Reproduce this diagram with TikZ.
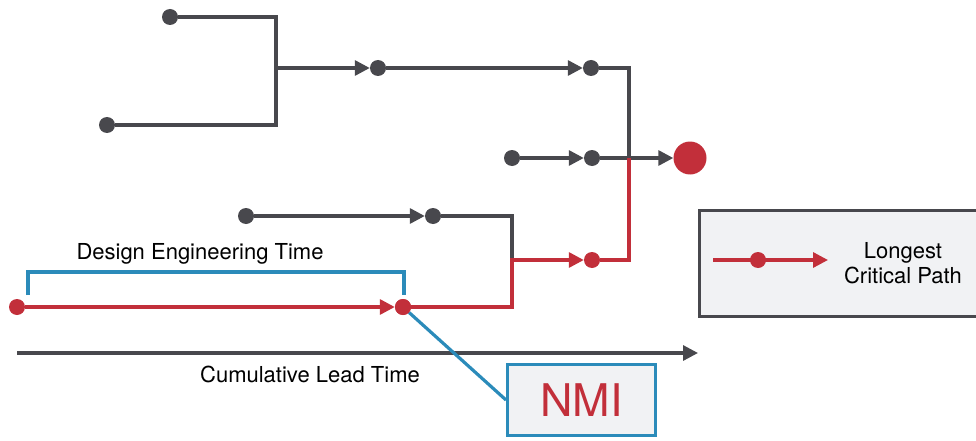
\documentclass[tikz,border=0pt]{standalone}
\usepackage{fontspec}
\setmainfont{TeX Gyre Heros}
\usetikzlibrary{arrows.meta}
\definecolor{dgrey}{HTML}{48484D}
\definecolor{dred}{HTML}{C22F3A}
\definecolor{dblue}{HTML}{2B8BBA}
\definecolor{lfill}{HTML}{F1F2F4}
\tikzset{
  gline/.style={draw=dgrey,line width=3.2pt},
  rline/.style={draw=dred,line width=3.2pt},
  bline/.style={draw=dblue,line width=3.2pt},
  tip/.style={-{Triangle[length=15pt,width=15pt]}},
  gdot/.style={circle,fill=dgrey,inner sep=0pt,minimum size=16pt},
  rdot/.style={circle,fill=dred,inner sep=0pt,minimum size=16pt},
  bigdot/.style={circle,fill=dred,inner sep=0pt,minimum size=33pt},
  lbl/.style={font=\fontsize{22}{26}\selectfont,text=black,inner sep=0pt},
}
\begin{document}
\begin{tikzpicture}[x=1pt,y=-1pt]
\useasboundingbox (0,0) rectangle (976,441);
% legend box
\node[draw=dgrey,line width=3pt,fill=lfill,minimum width=284pt,minimum height=106pt,anchor=north west,inner sep=0pt] (leg) at (698,209) {};
\coordinate (l0) at (713,260);
\coordinate (l1) at (828,260);
\draw[rline,tip] (l0) -- (l1);
\node[rdot] (ld) at (758,260) {};
\node[lbl,align=center,font=\fontsize{22}{25}\selectfont] (legtxt) at (903,263) {Longest\\Critical Path};
% nodes
\node[gdot] (a1) at (170,17) {};
\node[gdot] (a2) at (107,125) {};
\coordinate (j1) at (276,68);
\node[gdot] (b1) at (378,68) {};
\node[gdot] (b2) at (591,68) {};
\node[gdot] (c1) at (512,158) {};
\node[gdot] (c2) at (592,158) {};
\node[bigdot] (end) at (690,158) {};
\node[gdot] (e1) at (246,216) {};
\node[gdot] (e2) at (433,216) {};
\coordinate (jr) at (512,260);
\coordinate (jm) at (629,158);
\node[rdot] (r1) at (17,307) {};
\node[rdot] (r2) at (403,307) {};
\node[rdot] (r3) at (592,260) {};
% grey connectors
\draw[gline] (a1) -| (j1 |- a2) -- (a2);
\draw[gline,tip] (j1) -- (b1);
\draw[gline,tip] (b1) -- (b2);
\draw[gline] (b2) -| (jm);
\draw[gline,tip] (c1) -- (c2);
\draw[gline,tip] (c2) -- (end);
\draw[gline,tip] (e1) -- (e2);
\draw[gline] (e2) -| (jr);
% red path
\draw[rline] (r3) -| (jm);
\draw[rline,tip] (r2) -| (jr) -- (r3);
\draw[rline,tip] (r1) -- (r2);
% bracket
\coordinate (bk1) at (28,295);
\coordinate (bk1t) at (28,272);
\coordinate (bk2) at (404,295);
\draw[bline] (bk1) -- (bk1t) -| (bk2);
\node[lbl] (det) at (200,254) {Design Engineering Time};
% axis
\coordinate (ax0) at (17,353);
\coordinate (ax1) at (698,353);
\draw[gline,tip] (ax0) -- (ax1);
\node[lbl] (axl) at (310,374) {Cumulative Lead Time};
% NMI
\node[draw=dblue,line width=3pt,fill=lfill,minimum width=148pt,minimum height=71pt,inner sep=0pt,text=dred,font=\fontsize{45}{45}\selectfont] (nmi) at (581.5,400) {NMI};
\draw[bline] (r2) -- (nmi.west);
\node[rdot] (r2top) at (r2) {};
\end{tikzpicture}
\end{document}
